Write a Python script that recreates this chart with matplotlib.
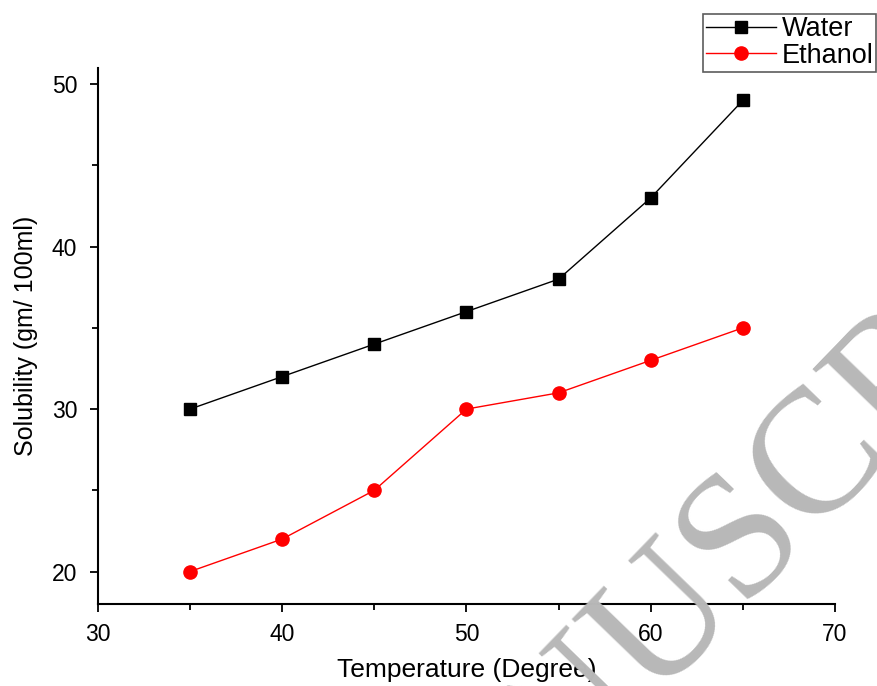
import matplotlib.pyplot as plt
from matplotlib.ticker import MultipleLocator

temperature = [35, 40, 45, 50, 55, 60, 65]
water = [30, 32, 34, 36, 38, 43, 49]
ethanol = [20, 22, 25, 30, 31, 33, 35]

plt.rcParams['font.family'] = ['Liberation Sans', 'DejaVu Sans']

fig = plt.figure(figsize=(8.77, 6.86), dpi=100)
ax = fig.add_axes([0.1117, 0.1195, 0.8404, 0.7815])

ax.plot(temperature, water, color='black', lw=1, marker='s', markersize=8.5, label='Water')
ax.plot(temperature, ethanol, color='red', lw=1, marker='o', markersize=9.5, label='Ethanol')

ax.set_xlim(30, 70)
ax.set_ylim(18, 51)
ax.xaxis.set_major_locator(MultipleLocator(10))
ax.xaxis.set_minor_locator(MultipleLocator(5))
ax.yaxis.set_major_locator(MultipleLocator(10))
ax.yaxis.set_minor_locator(MultipleLocator(5))
ax.tick_params(which='major', direction='out', length=6, width=1.3, labelsize=16.5)
ax.tick_params(axis='x', which='major', pad=8)
ax.tick_params(axis='y', which='major', pad=9)
ax.tick_params(which='minor', direction='out', length=4, width=1.3)

for s in ['top', 'right']:
    ax.spines[s].set_visible(False)
for s in ['left', 'bottom']:
    ax.spines[s].set_linewidth(1.5)

ax.set_xlabel('Temperature (Degree)', fontsize=19, labelpad=8)
ax.set_ylabel('Solubility (gm/ 100ml)', fontsize=18, labelpad=10)

leg = fig.legend(loc='upper right', bbox_to_anchor=(0.999, 0.98), fontsize=19.5,
                 frameon=True, fancybox=False, handlelength=2.6, borderpad=0.1,
                 labelspacing=0.02, handletextpad=0.2, borderaxespad=0)
leg.get_frame().set_edgecolor('#333333')
leg.get_frame().set_linewidth(1.2)

# watermark
fig.text(0.834, 0.192, 'MANUSCRIPT', fontsize=128, family='Liberation Serif',
         color='#b8b8b8', rotation=46, ha='center', va='center',
         rotation_mode='anchor', zorder=5)

fig.savefig('out.png', dpi=100)
